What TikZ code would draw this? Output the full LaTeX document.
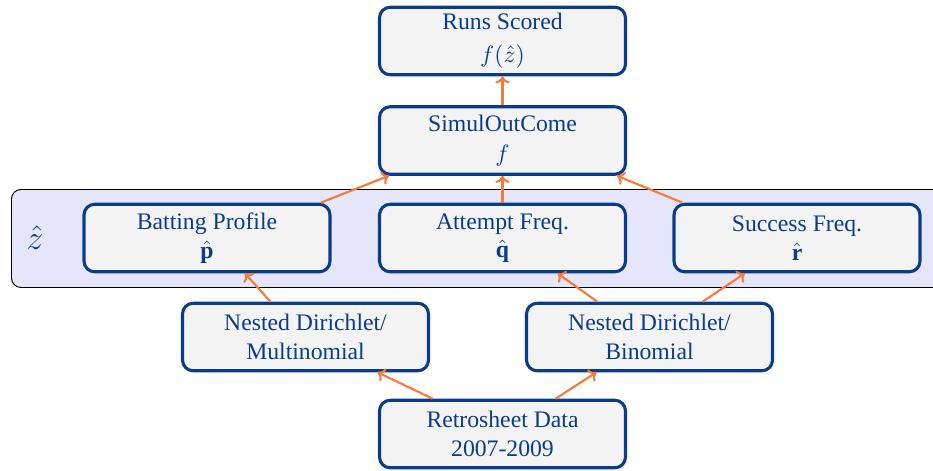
\documentclass[tikz,border=0pt]{standalone}
\usepackage{fontspec}
\setmainfont{Liberation Serif}
\usetikzlibrary{arrows.meta}
\definecolor{navy}{HTML}{0A3C8A}
\definecolor{boxfill}{HTML}{F3F3F3}
\definecolor{bandfill}{HTML}{E6E6FA}
\definecolor{arrorange}{HTML}{F47B3A}
\tikzset{
  box/.style={draw=navy, fill=boxfill, line width=1.3pt, rounded corners=4.5pt,
    minimum width=103.8pt, minimum height=28.5pt, align=center, text=navy,
    font=\fontsize{10}{12}\selectfont, inner sep=1pt},
  arr/.style={draw=arrorange, line width=0.9pt, -{To[length=3pt,width=6pt]}},
}
\begin{document}
\begin{tikzpicture}[x=0.422pt, y=-0.422pt]
\clip (0,0) rectangle (933,470);
\useasboundingbox (0,0) rectangle (933,470);
\node[draw=black, fill=bandfill, line width=0.4pt, rounded corners=4pt,
  minimum width=(960-11)*0.422pt, minimum height=98*0.422pt, anchor=north west]
  (band) at (11,189) {};
\node[text=navy, font=\fontsize{14}{16}\selectfont] (zlab) at (35,238) {$\hat{z}$};
\node[box] (runs) at (502.5,41) {Runs Scored\\[2pt]$f(\hat{z})$};
\node[box] (sim) at (502.5,140.5) {SimulOutCome\\[1pt]$f$};
\node[box] (bp) at (207,238) {Batting Profile\\$\hat{\mathbf{p}}$};
\node[box] (af) at (502.5,238) {Attempt Freq.\\$\hat{\mathbf{q}}$};
\node[box] (sf) at (797,238) {Success Freq.\\$\hat{\mathbf{r}}$};
\node[box] (ndm) at (305.5,337) {Nested Dirichlet/\\Multinomial};
\node[box] (ndb) at (649.5,337) {Nested Dirichlet/\\Binomial};
\node[box] (rs) at (502.5,434) {Retrosheet Data\\2007-2009};
\draw[arr] (sim.north) -- (runs.south);
\draw[arr] (af.north) -- (sim.south);
\draw[arr] ([xshift=-4.6pt]bp.north east) -- ([xshift=4.6pt]sim.south west);
\draw[arr] ([xshift=4.2pt]sf.north west) -- ([xshift=-4.2pt]sim.south east);
\draw[arr] ([xshift=-14.8pt]ndm.north) -- ([xshift=16pt]bp.south);
\draw[arr] ([xshift=-22pt]ndb.north) -- ([xshift=23.2pt]af.south);
\draw[arr] ([xshift=22.4pt]ndb.north) -- ([xshift=-22pt]sf.south);
\draw[arr] ([xshift=-29.5pt]rs.north) -- ([xshift=30.4pt]ndm.south);
\draw[arr] ([xshift=22.4pt]rs.north) -- ([xshift=-22.4pt]ndb.south);
\end{tikzpicture}
\end{document}
